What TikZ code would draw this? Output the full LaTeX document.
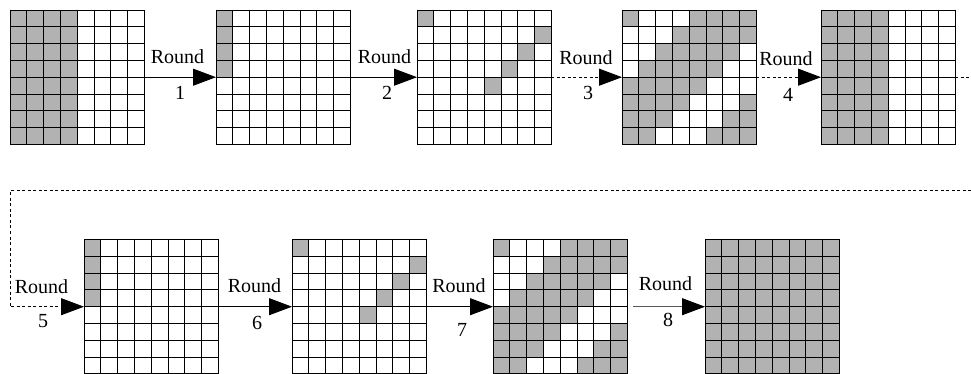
\documentclass[tikz,border=0pt]{standalone}
\usepackage{fontspec}
\setmainfont{Liberation Serif}
\usetikzlibrary{arrows.meta}
\tikzset{
 cellfill/.style={fill=gray!60},
 gridline/.style={line width=0.95pt, black, line cap=rect},
 gridbox/.style={minimum size=134.4pt, inner sep=0pt, outer sep=0pt, draw=none},
 flow/.style={line width=1pt, -{Triangle[length=23pt,width=17pt,color=black]}},
 dashline/.style={line width=1pt, dash pattern=on 3pt off 2.5pt},
 flowdash/.style={flow, dash pattern=on 3pt off 2.5pt},
 lbl/.style={inner sep=0pt, anchor=base, font=\fontsize{20}{22}\selectfont},
}
\newcommand\gridcells[2]{%
 \begin{scope}[shift={(#1.north west)}]
 \foreach \r in {0,...,7}{\foreach \c in {0,...,7}{%
   \pgfmathtruncatemacro\cellflag{#2}%
   \ifnum\cellflag=1 \fill[cellfill] (\c*16.8,\r*16.8) rectangle ++(16.8,16.8);\fi}}
 \foreach \i in {0,...,8}{\draw[gridline] (\i*16.8,0) -- (\i*16.8,134.4); \draw[gridline] (0,\i*16.8) -- (134.4,\i*16.8);}
 \end{scope}}
\begin{document}
\begin{tikzpicture}[x=1pt,y=-1pt]
\useasboundingbox (0,0) rectangle (971,374);
% grids
\node[gridbox] (g1) at (77.2,77.2) {};
\node[gridbox] (g2) at (283.2,77.2) {};
\node[gridbox] (g3) at (484.2,77.2) {};
\node[gridbox] (g4) at (689.2,77.2) {};
\node[gridbox] (g5) at (888.2,77.2) {};
\node[gridbox] (g6) at (151.2,306.7) {};
\node[gridbox] (g7) at (359.2,306.7) {};
\node[gridbox] (g8) at (560.2,306.7) {};
\node[gridbox] (g9) at (772.2,306.7) {};
\gridcells{g1}{\c<4}
\gridcells{g2}{and(\c==0,\r<4)}
\gridcells{g3}{or(and(\r==0,\c==0),and(and(\r>=1,\r<=4),\c==8-\r))}
\gridcells{g4}{or(mod(\r+\c,8)==0,mod(\r+\c,8)>3)}
\gridcells{g5}{\c<4}
\gridcells{g6}{and(\c==0,\r<4)}
\gridcells{g7}{or(and(\r==0,\c==0),and(and(\r>=1,\r<=4),\c==8-\r))}
\gridcells{g8}{or(mod(\r+\c,8)==0,mod(\r+\c,8)>3)}
\gridcells{g9}{1}
% connectors
\draw[flow] (g1.east) -- (g2.west);
\draw[flow] (g2.east) -- (g3.west);
\draw[flowdash] (g3.east) -- (g4.west);
\draw[flowdash] (g4.east) -- (g5.west);
\coordinate (r1end) at (971,77.2);
\draw[dashline] (g5.east) -- (r1end);
\coordinate (r2start) at (971,191);
\coordinate (bendA) at (10,191);
\coordinate (bendB) at (10,306.7);
\draw[flowdash] (r2start) -- (bendA) -- (bendB) -- (g6.west);
\draw[flow] (g6.east) -- (g7.west);
\draw[flow] (g7.east) -- (g8.west);
\draw[flow, draw=black!65] ([xshift=6pt]g8.east) -- (g9.west);
% labels
\node[lbl] (l1) at (177.5,63.5) {Round};
\node[lbl] (n1) at (180,100) {1};
\node[lbl] (l2) at (384.5,64) {Round};
\node[lbl] (n2) at (387,99.5) {2};
\node[lbl] (l3) at (586,64.3) {Round};
\node[lbl] (n3) at (588,99.5) {3};
\node[lbl] (l4) at (786,66) {Round};
\node[lbl] (n4) at (788,101.5) {4};
\node[lbl] (l5) at (41.5,293) {Round};
\node[lbl] (n5) at (43,327.5) {5};
\node[lbl] (l6) at (254.5,292.7) {Round};
\node[lbl] (n6) at (257,329) {6};
\node[lbl] (l7) at (459,292.7) {Round};
\node[lbl] (n7) at (462,336.5) {7};
\node[lbl] (l8) at (665.5,290.7) {Round};
\node[lbl] (n8) at (668,326) {8};
\end{tikzpicture}
\end{document}
